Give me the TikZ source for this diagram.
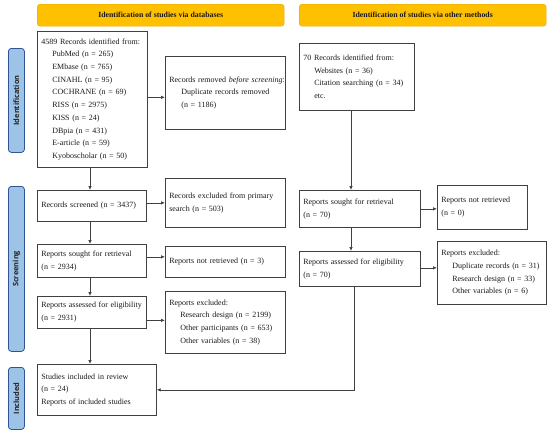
\documentclass[tikz,border=0pt]{standalone}
\usepackage{fontspec}
\setmainfont{Liberation Serif}
\setsansfont{Open Sans}
\usetikzlibrary{arrows.meta,calc}
\definecolor{hdrfill}{HTML}{FFC000}
\definecolor{hdrline}{HTML}{E0A800}
\definecolor{sidefill}{HTML}{9DC3E6}
\definecolor{sideline}{HTML}{2F5597}
\definecolor{boxline}{HTML}{404040}
\definecolor{txt}{HTML}{1A1A1A}
\tikzset{
  box/.style={draw=boxline, line width=0.7pt, fill=white, anchor=north west,
    inner xsep=4pt, inner ysep=2pt, align=left, text=txt,
    font=\fontsize{8}{12.7}\selectfont},
  hdr/.style={draw=hdrline, line width=0.4pt, fill=hdrfill, rounded corners=3pt,
    anchor=north west, inner sep=0pt},
  hdrtxt/.style={font=\fontsize{7.8}{9}\selectfont\bfseries, text=txt},
  side/.style={draw=sideline, line width=0.8pt, fill=sidefill, rounded corners=3pt,
    anchor=north west, inner sep=0pt},
  sidetxt/.style={rotate=90, font=\sffamily\bfseries\fontsize{7.4}{8}\selectfont, text=black!85},
  arr/.style={draw=boxline, line width=0.7pt, -{Latex[length=4pt,width=3.5pt]}}
}
\newcommand{\ind}{\hspace*{11pt}}
\begin{document}
\begin{tikzpicture}[x=1pt,y=-1pt]
\useasboundingbox (0,0) rectangle (550,434);
% headers
\node[hdr, minimum width=247pt, minimum height=22pt] (hl) at (37,4) {};
\node[hdrtxt] (hlt) at (hl.center) {Identification of studies via databases};
\node[hdr, minimum width=247pt, minimum height=22pt] (hr) at (299,4) {};
\node[hdrtxt] (hrt) at (hr.center) {Identification of studies via other methods};
% side labels
\node[side, minimum width=16pt, minimum height=104pt] (s1) at (8,48) {};
\node[sidetxt] (s1t) at (s1.center) {Identification};
\node[side, minimum width=16pt, minimum height=165pt] (s2) at (8,186) {};
\node[sidetxt] (s2t) at (s2.center) {Screening};
\node[side, minimum width=16pt, minimum height=62pt] (s3) at (8,367) {};
\node[sidetxt] (s3t) at (s3.center) {Included};
% left column
\node[box, minimum width=110pt, minimum height=136pt, text width=102pt] (id) at (37,31)
{4589 Records identified from:\\
\ind PubMed (n = 265)\\
\ind EMbase (n = 765)\\
\ind CINAHL (n = 95)\\
\ind COCHRANE (n = 69)\\
\ind RISS (n = 2975)\\
\ind KISS (n = 24)\\
\ind DBpia (n = 431)\\
\ind E-article (n = 59)\\
\ind Kyoboscholar (n = 50)};
\node[box, minimum width=120pt, minimum height=73pt, text width=112pt] (rem) at (165,56)
{\mbox{Records removed \textit{before screening}:}\\
\hspace*{12pt}Duplicate records removed\\
\hspace*{12pt}(n = 1186)};
\node[box, minimum width=109pt, minimum height=31pt, text width=101pt] (scr) at (37,190)
{Records screened (n = 3437)};
\node[box, minimum width=120pt, minimum height=49pt, text width=112pt] (exc1) at (165,178)
{Records excluded from primary\\ search (n = 503)};
\node[box, minimum width=109pt, minimum height=33pt, text width=101pt] (sought) at (37,244)
{Reports sought for retrieval\\ (n = 2934)};
\node[box, minimum width=120pt, minimum height=31pt, text width=112pt] (notret) at (165,246)
{Reports not retrieved (n = 3)};
\node[box, minimum width=109pt, minimum height=32pt, text width=101pt] (assess) at (37,296)
{\mbox{Reports assessed for eligibility}\\ (n = 2931)};
\node[box, minimum width=120pt, minimum height=62pt, text width=112pt] (exc2) at (165,291)
{Reports excluded:\\
\ind Research design (n = 2199)\\
\ind Other participants (n = 653)\\
\ind Other variables (n = 38)};
\node[box, minimum width=119pt, minimum height=51pt, text width=111pt] (incl) at (37,364)
{Studies included in review\\ (n = 24)\\ Reports of included studies};
% right column
\node[box, minimum width=115pt, minimum height=67pt, text width=107pt] (rid) at (299,43)
{70 Records identified from:\\
\ind Websites (n = 36)\\
\ind Citation searching (n = 34)\\
\ind etc.};
\node[box, minimum width=121pt, minimum height=37pt, text width=113pt] (rsought) at (299,190)
{Reports sought for retrieval\\ (n = 70)};
\node[box, minimum width=90pt, minimum height=44pt, text width=82pt] (rnotret) at (437,185)
{Reports not retrieved\\ (n = 0)};
\node[box, minimum width=121pt, minimum height=35pt, text width=113pt] (rassess) at (299,251)
{Reports assessed for eligibility\\ (n = 70)};
\node[box, minimum width=109pt, minimum height=63pt, text width=101pt] (rexc) at (437,241)
{Reports excluded:\\
\ind Duplicate records (n = 31)\\
\ind Research design (n = 33)\\
\ind Other variables (n = 6)};
% connectors
\coordinate (lx) at (90,0);
\coordinate (rx) at (351,0);
\coordinate (rx2) at (354,0);
\draw[arr] (id.south -| lx) -- (scr.north -| lx);
\draw[arr] ($(id.east)+(0,-2)$) -- ($(id.east -| rem.west)+(0,-2)$);
\draw[arr] (scr.south -| lx) -- (sought.north -| lx);
\draw[arr] (exc1.west -| scr.east) -- (exc1.west);
\draw[arr] ($(sought.east)+(0,-4)$) -- ($(sought.east -| notret.west)+(0,-4)$);
\draw[arr] (sought.south -| lx) -- (assess.north -| lx);
\draw[arr] ($(assess.east)+(0,8)$) -- ($(assess.east -| exc2.west)+(0,8)$);
\draw[arr] (assess.south -| lx) -- (incl.north -| lx);
\draw[arr] (rid.south -| rx) -- (rsought.north -| rx);
\draw[arr] (rsought.east) -- (rsought.east -| rnotret.west);
\draw[arr] (rsought.south -| rx) -- (rassess.north -| rx);
\draw[arr] ($(rassess.east)+(0,-1)$) -- ($(rassess.east -| rexc.west)+(0,-1)$);
\draw[arr] (rassess.south -| rx2) |- (incl.east);
\end{tikzpicture}
\end{document}
